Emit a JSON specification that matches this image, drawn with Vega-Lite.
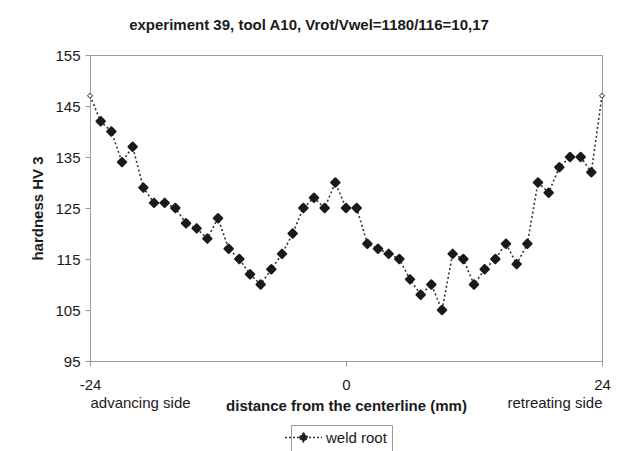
{
  "$schema": "https://vega.github.io/schema/vega-lite/v6.json",
  "width": 512,
  "height": 306,
  "autosize": "none",
  "padding": {"left": 90, "top": 55, "right": 28, "bottom": 90},
  "background": "white",
  "config": {
    "font": "Liberation Sans",
    "view": {"stroke": "#9a9a9a", "strokeWidth": 1},
    "axis": {
      "grid": false,
      "domainColor": "#9a9a9a",
      "tickColor": "#9a9a9a",
      "labelColor": "#1a1a1a",
      "labelFontSize": 15,
      "labelFont": "Liberation Sans",
      "titleFont": "Liberation Sans",
      "titleFontSize": 15,
      "titleFontWeight": "bold",
      "titleColor": "#1a1a1a",
      "tickSize": 5,
      "labelFlush": false,
      "labelOverlap": false
    },
    "legend": {
      "labelFont": "Liberation Sans",
      "labelFontSize": 15,
      "labelColor": "#1a1a1a",
      "strokeColor": "#9a9a9a",
      "fillColor": "white",
      "padding": 5,
      "labelOffset": 15
    }
  },
  "title": {
    "text": "experiment 39, tool A10, Vrot/Vwel=1180/116=10,17",
    "font": "Liberation Sans",
    "fontSize": 15,
    "fontWeight": "bold",
    "color": "#1a1a1a",
    "anchor": "middle",
    "dx": -37,
    "offset": 15
  },
  "data": {
    "values": [
      {"distance": -24, "hardness": 147, "series": "weld root"},
      {"distance": -23, "hardness": 142, "series": "weld root"},
      {"distance": -22, "hardness": 140, "series": "weld root"},
      {"distance": -21, "hardness": 134, "series": "weld root"},
      {"distance": -20, "hardness": 137, "series": "weld root"},
      {"distance": -19, "hardness": 129, "series": "weld root"},
      {"distance": -18, "hardness": 126, "series": "weld root"},
      {"distance": -17, "hardness": 126, "series": "weld root"},
      {"distance": -16, "hardness": 125, "series": "weld root"},
      {"distance": -15, "hardness": 122, "series": "weld root"},
      {"distance": -14, "hardness": 121, "series": "weld root"},
      {"distance": -13, "hardness": 119, "series": "weld root"},
      {"distance": -12, "hardness": 123, "series": "weld root"},
      {"distance": -11, "hardness": 117, "series": "weld root"},
      {"distance": -10, "hardness": 115, "series": "weld root"},
      {"distance": -9, "hardness": 112, "series": "weld root"},
      {"distance": -8, "hardness": 110, "series": "weld root"},
      {"distance": -7, "hardness": 113, "series": "weld root"},
      {"distance": -6, "hardness": 116, "series": "weld root"},
      {"distance": -5, "hardness": 120, "series": "weld root"},
      {"distance": -4, "hardness": 125, "series": "weld root"},
      {"distance": -3, "hardness": 127, "series": "weld root"},
      {"distance": -2, "hardness": 125, "series": "weld root"},
      {"distance": -1, "hardness": 130, "series": "weld root"},
      {"distance": 0, "hardness": 125, "series": "weld root"},
      {"distance": 1, "hardness": 125, "series": "weld root"},
      {"distance": 2, "hardness": 118, "series": "weld root"},
      {"distance": 3, "hardness": 117, "series": "weld root"},
      {"distance": 4, "hardness": 116, "series": "weld root"},
      {"distance": 5, "hardness": 115, "series": "weld root"},
      {"distance": 6, "hardness": 111, "series": "weld root"},
      {"distance": 7, "hardness": 108, "series": "weld root"},
      {"distance": 8, "hardness": 110, "series": "weld root"},
      {"distance": 9, "hardness": 105, "series": "weld root"},
      {"distance": 10, "hardness": 116, "series": "weld root"},
      {"distance": 11, "hardness": 115, "series": "weld root"},
      {"distance": 12, "hardness": 110, "series": "weld root"},
      {"distance": 13, "hardness": 113, "series": "weld root"},
      {"distance": 14, "hardness": 115, "series": "weld root"},
      {"distance": 15, "hardness": 118, "series": "weld root"},
      {"distance": 16, "hardness": 114, "series": "weld root"},
      {"distance": 17, "hardness": 118, "series": "weld root"},
      {"distance": 18, "hardness": 130, "series": "weld root"},
      {"distance": 19, "hardness": 128, "series": "weld root"},
      {"distance": 20, "hardness": 133, "series": "weld root"},
      {"distance": 21, "hardness": 135, "series": "weld root"},
      {"distance": 22, "hardness": 135, "series": "weld root"},
      {"distance": 23, "hardness": 132, "series": "weld root"},
      {"distance": 24, "hardness": 147, "series": "weld root"}
    ]
  },
  "layer": [
    {
      "mark": {"type": "line", "strokeDash": [2, 2.5], "strokeWidth": 1.6},
      "encoding": {
        "x": {
          "field": "distance",
          "type": "quantitative",
          "scale": {"domain": [-24, 24], "nice": false, "zero": false},
          "axis": {
            "values": [-24, 0, 24],
            "labelExpr": "datum.value == -24 ? '-24' : datum.label",
            "title": "distance from the centerline (mm)",
            "labelPadding": 11,
            "titleBaseline": "alphabetic",
            "titleY": 49
          }
        },
        "y": {
          "field": "hardness",
          "type": "quantitative",
          "scale": {"domain": [95, 155], "nice": false, "zero": false},
          "axis": {
            "values": [95, 105, 115, 125, 135, 145, 155],
            "title": "hardness HV 3",
            "labelPadding": 5,
            "titlePadding": 9
          }
        },
        "color": {
          "field": "series",
          "type": "nominal",
          "scale": {"range": ["#333333"]},
          "legend": {
            "title": null,
            "orient": "none",
            "legendX": 201,
            "legendY": 370,
            "symbolSize": 100,
            "symbolType": "M-3.7,0L3.7,0M0,-0.9L0.9,0L0,0.9L-0.9,0Z",
            "encode": {
              "symbols": {
                "update": {
                  "fill": {"value": "#1a1a1a"},
                  "stroke": {"value": "#333333"},
                  "strokeDash": {"value": [2, 2]},
                  "strokeWidth": {"value": 1.5},
                  "shape": {"value": "M-3.7,0L3.7,0M0,-0.9L0.9,0L0,0.9L-0.9,0Z"},
                  "size": {"value": 100}
                }
              }
            }
          }
        }
      }
    },
    {
      "transform": [{"filter": "abs(datum.distance) < 24"}],
      "mark": {"type": "point", "shape": "diamond", "filled": true, "size": 72, "color": "#1a1a1a", "stroke": "#1a1a1a", "strokeWidth": 2, "strokeJoin": "round", "opacity": 1},
      "encoding": {
        "x": {
          "field": "distance",
          "type": "quantitative",
          "axis": {
            "orient": "bottom",
            "values": [-24, 24],
            "labelExpr": "datum.value < 0 ? 'advancing side' : 'retreating side'",
            "labelAlign": {"condition": {"test": "datum.value < 0", "value": "left"}, "value": "right"},
            "labelBaseline": "alphabetic",
            "ticks": false,
            "domain": false,
            "labelPadding": 46,
            "title": null
          }
        },
        "y": {"field": "hardness", "type": "quantitative"}
      }
    },
    {
      "transform": [{"filter": "abs(datum.distance) == 24"}],
      "mark": {"type": "point", "shape": "diamond", "filled": true, "fill": "white", "stroke": "#1a1a1a", "strokeWidth": 1, "size": 25, "opacity": 1},
      "encoding": {
        "x": {"field": "distance", "type": "quantitative", "axis": null},
        "y": {"field": "hardness", "type": "quantitative"}
      }
    }
  ],
  "resolve": {"axis": {"x": "independent"}}
}
